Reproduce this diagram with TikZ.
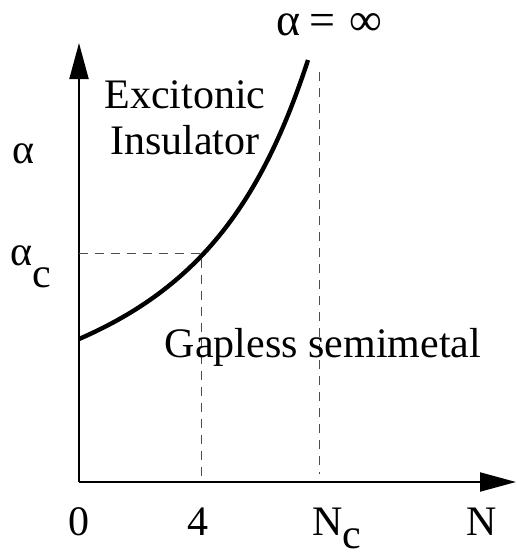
\documentclass[tikz,border=0pt]{standalone}
\usepackage{fontspec}
\setmainfont{Liberation Serif}
\newfontfamily\plotfont{Liberation Serif}
\usetikzlibrary{positioning,arrows.meta}
\newcommand{\subc}[1]{\raisebox{-#1}{c}}

\begin{document}
\begin{tikzpicture}[x=0.5pt,y=-0.5pt,font=\plotfont\fontsize{21}{23}\selectfont,
  >={Triangle[length=18pt,width=9.5pt]},
  ax/.style={line width=1pt,->},
  guide/.style={dash pattern=on 4.5pt off 3.5pt,line width=0.5pt,draw=black!70},
  lbl/.style={inner sep=0pt,anchor=base}]
  \useasboundingbox (0,0) rectangle (516,552);
  % axes
  \coordinate (o) at (79,482);
  \coordinate (ytop) at (79,43);
  \coordinate (xend) at (516,482);
  \draw[ax] (o) -- (ytop);
  \draw[ax] (o) -- (xend);
  % phase boundary
  \coordinate (start) at (79,339);
  \coordinate (crit) at (201,253);
  \coordinate (tip) at (308,60);
  \draw[line width=2.2pt] (start) .. controls (199,287) and (261.5,202.5) .. (tip);
  % guides
  \coordinate (nc) at (319,72);
  \coordinate (ncb) at (319,474);
  \draw[guide] (o|-crit) -- (crit) -- (crit|-o);
  \draw[guide] (nc) -- (ncb);
  % labels
  \node[lbl] (ainf) at (329,35) {\fontsize{23}{25}\selectfont α\hspace{4.5pt}=\hspace{7pt}∞};
  \node[lbl,align=center] (ei) at (185,154) {Excitonic\\Insulator};
  \node[lbl] (gs) at (323,357) {Gapless semimetal};
  \node[lbl] (alab) at (24,163) {α};
  \node[lbl,anchor=base west] (aclab) at (10,265) {α\subc{11pt}};
  \node[lbl] (t0) at (79,535) {0};
  \node[lbl] (t4) at (198,535) {4};
  \node[lbl,anchor=base west] (tnc) at (312,535) {N\subc{6.5pt}};
  \node[lbl] (tn) at (482,535) {N};
\end{tikzpicture}
\end{document}
